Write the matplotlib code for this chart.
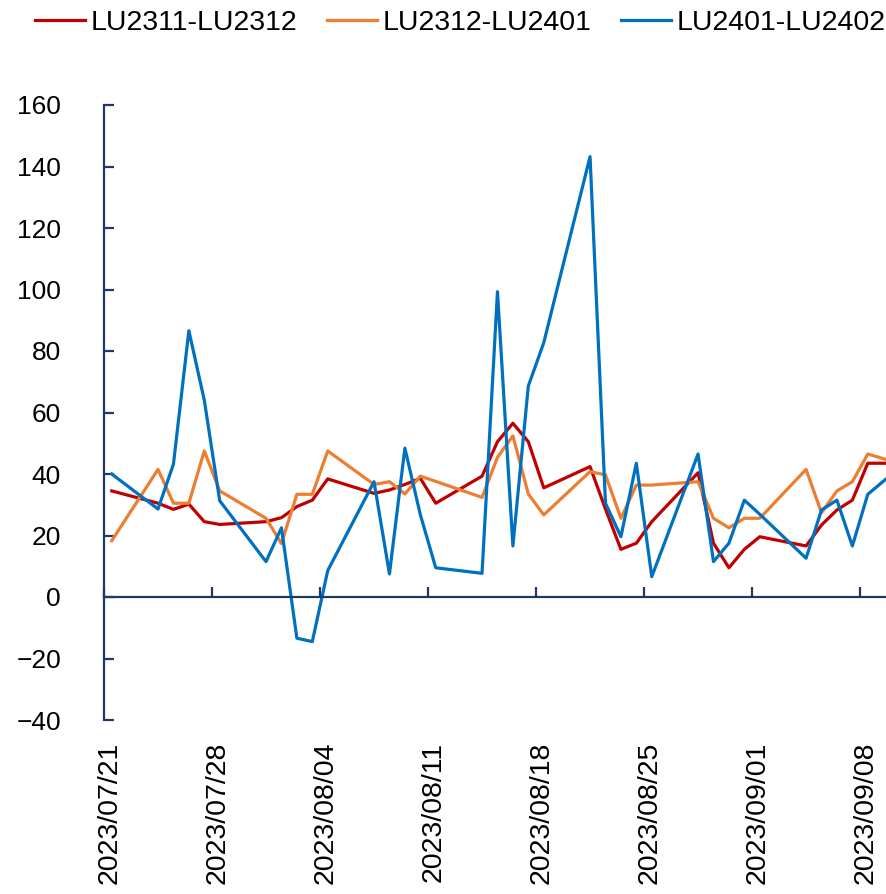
import pandas as pd
import matplotlib
matplotlib.use("Agg")
import matplotlib.pyplot as plt
import matplotlib.dates as mdates
from matplotlib.transforms import ScaledTranslation

# 交易日
dates = ["2023-07-21", "2023-07-24", "2023-07-25", "2023-07-26", "2023-07-27", "2023-07-28",
         "2023-07-31", "2023-08-01", "2023-08-02", "2023-08-03", "2023-08-04",
         "2023-08-07", "2023-08-08", "2023-08-09", "2023-08-10", "2023-08-11",
         "2023-08-14", "2023-08-15", "2023-08-16", "2023-08-17", "2023-08-18",
         "2023-08-21", "2023-08-22", "2023-08-23", "2023-08-24", "2023-08-25",
         "2023-08-28", "2023-08-29", "2023-08-30", "2023-08-31", "2023-09-01",
         "2023-09-04", "2023-09-05", "2023-09-06", "2023-09-07", "2023-09-08",
         "2023-09-11"]

lu2311_2312 = [34.5, 30.5, 28.5, 30.2, 24.5, 23.6, 24.5, 25.8, 29.4, 31.5, 38.4,
               33.7, 34.8, 36.6, 38.6, 30.5, 39.3, 50.5, 56.5, 50.5, 35.5,
               42.4, 28.6, 15.5, 17.5, 24.5, 40.4, 17.5, 9.5, 15.5, 19.6,
               16.6, 23.4, 28.3, 31.5, 43.5, 43.5]
lu2312_2401 = [18.3, 41.5, 30.5, 30.5, 47.5, 34.5, 25.6, 17.4, 33.4, 33.4, 47.5,
               36.6, 37.5, 33.5, 39.3, 37.6, 32.4, 45.4, 52.4, 33.5, 26.7,
               40.8, 39.7, 25.6, 36.4, 36.4, 37.5, 25.6, 22.5, 25.6, 25.6,
               41.5, 27.4, 34.5, 37.5, 46.5, 42.0]
lu2401_2402 = [40.0, 28.6, 43.2, 86.6, 64.0, 31.3, 11.5, 22.5, -13.4, -14.5, 8.6,
               37.5, 7.5, 48.4, 26.8, 9.5, 7.7, 99.3, 16.6, 68.6, 82.7,
               143.2, 30.5, 19.6, 43.5, 6.6, 46.5, 11.5, 17.5, 31.5, 26.9,
               12.6, 28.3, 31.5, 16.6, 33.4, 46.0]

series_names = ["LU2311-LU2312", "LU2312-LU2401", "LU2401-LU2402"]
y_ticks = [-40, -20, 0, 20, 40, 60, 80, 100, 120, 140, 160]

colors = ["#C00000", "#ED7D31", "#0070C0"]
axis_color = "#1F3864"
num_font = ["Liberation Sans", "DejaVu Sans"]

x = pd.to_datetime(dates) + pd.Timedelta(hours=12)  # 日期轴：点落在当日中间

fig = plt.figure(figsize=(8.86, 8.94), dpi=100)
# 原图右侧被裁掉，坐标区伸出画布
ax = fig.add_axes([104 / 886, 174 / 894, 54 * 15.43 / 886, 615 / 894])

for vals, name, c in zip([lu2311_2312, lu2312_2401, lu2401_2402], series_names, colors):
    ax.plot(x, vals, color=c, lw=2.3, label=name)

ax.set_ylim(-40, 160)
ax.set_yticks(y_ticks)
ax.set_yticklabels([str(v).replace("-", "\u2212") for v in y_ticks], family=num_font, fontsize=19)
ax.set_xlim(pd.Timestamp("2023-07-21"), pd.Timestamp("2023-09-13"))
ax.set_xticks(pd.date_range("2023-07-21", "2023-09-08", freq="7D"))
ax.xaxis.set_major_formatter(mdates.DateFormatter("%Y/%m/%d"))

for s in ["top", "right"]:
    ax.spines[s].set_visible(False)
ax.spines["bottom"].set_position(("data", 0))
for s in ["left", "bottom"]:
    ax.spines[s].set_color(axis_color)
    ax.spines[s].set_linewidth(1.6)

ax.tick_params(axis="y", direction="in", length=7, width=1.6, color=axis_color, pad=31)
ax.tick_params(axis="x", direction="in", length=7, width=1.6, color=axis_color, pad=104)
for lab in ax.get_xticklabels():
    lab.set_rotation(90)
    lab.set_fontsize(20.5)
    lab.set_family(num_font)
    lab.set_transform(lab.get_transform() + ScaledTranslation(6 / 100, 0, fig.dpi_scale_trans))

ax.patch.set_alpha(0)
ax.legend(loc="upper left", bbox_to_anchor=(35 / 886, 1 - 10 / 894), bbox_transform=fig.transFigure,
          ncol=3, frameon=False, prop={"family": num_font, "size": 20.5},
          handlelength=1.75, handletextpad=0.2, columnspacing=1.05, borderpad=0, borderaxespad=0)

plt.savefig("out.png", dpi=100)
